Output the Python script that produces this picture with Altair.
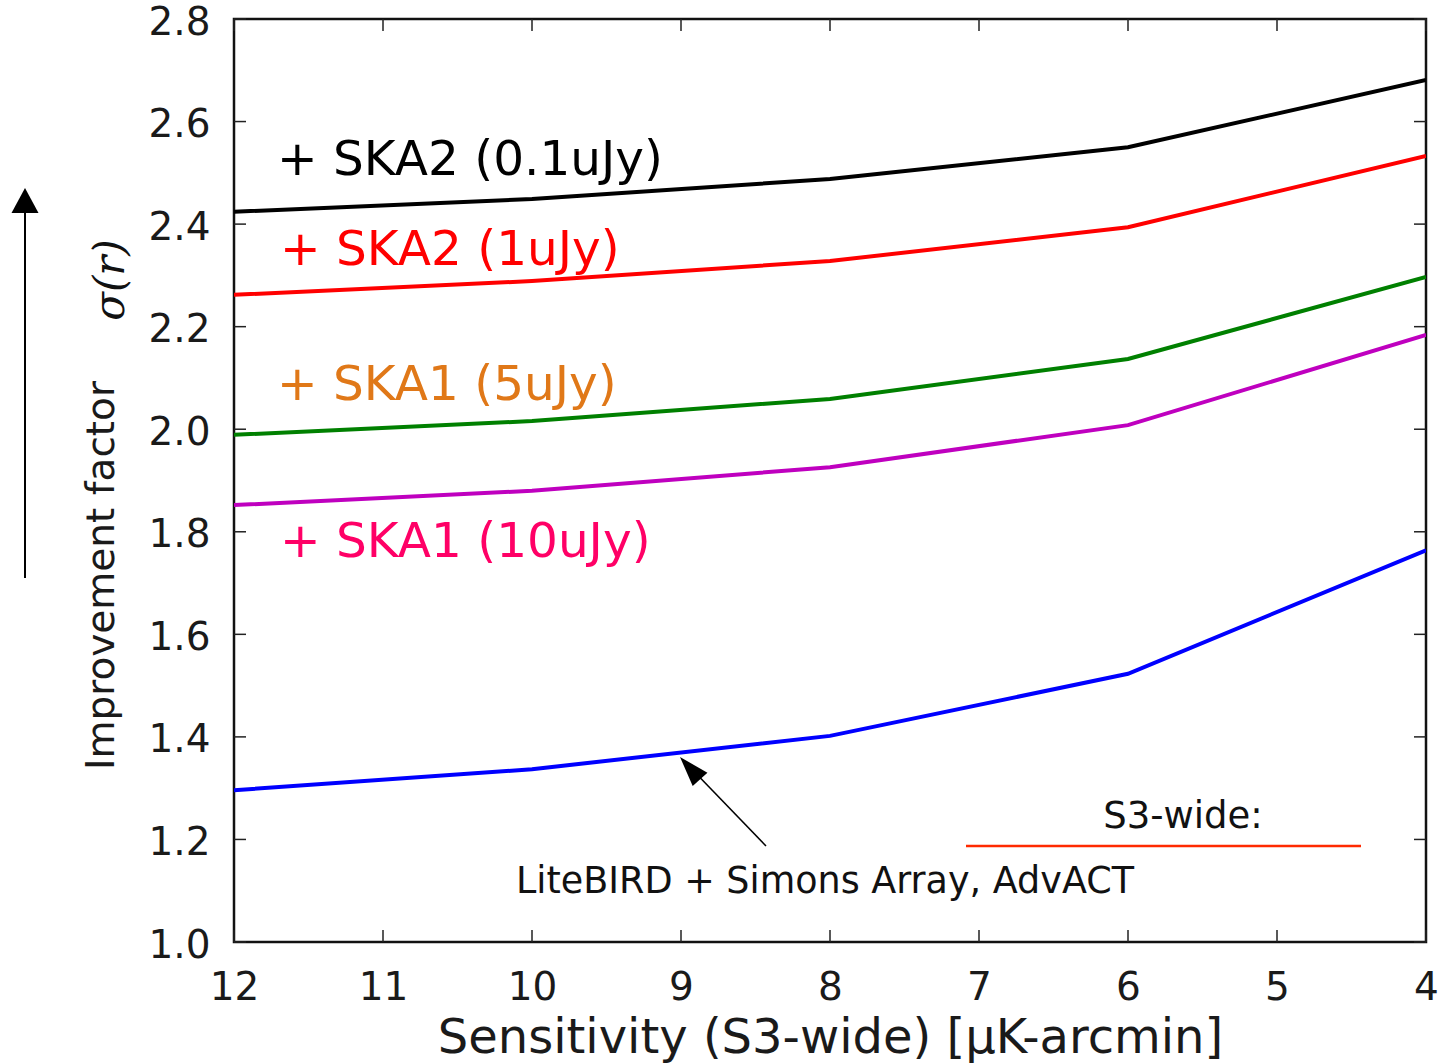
import altair as alt
import pandas as pd

# ---- data ----
sensitivity = [12, 10, 8, 6, 4]
ska2_01uJy = [2.424, 2.449, 2.488, 2.550, 2.681]
ska2_1uJy = [2.262, 2.289, 2.328, 2.394, 2.533]
ska1_5uJy = [1.989, 2.016, 2.059, 2.137, 2.297]
ska1_10uJy = [1.852, 1.880, 1.926, 2.008, 2.184]
cmb_only = [1.296, 1.337, 1.402, 1.523, 1.764]

series_names = ["+ SKA2 (0.1uJy)", "+ SKA2 (1uJy)", "+ SKA1 (5uJy)",
                "+ SKA1 (10uJy)", "LiteBIRD + Simons Array, AdvACT"]
series_values = [ska2_01uJy, ska2_1uJy, ska1_5uJy, ska1_10uJy, cmb_only]
line_colors = ["#000000", "#ff0000", "#008000", "#bf00bf", "#0000ff"]

x_ticks = [4, 5, 6, 7, 8, 9, 10, 11, 12]
y_ticks = [1.0, 1.2, 1.4, 1.6, 1.8, 2.0, 2.2, 2.4, 2.6, 2.8]

x_title = "Sensitivity (S3-wide) [\u03bcK-arcmin]"
y_title = "Improvement factor"

W, H = 1192, 923
FONT = "DejaVu Sans"
TICK = 12

rows = []
for name, vals in zip(series_names, series_values):
    for xv, yv in zip(sensitivity, vals):
        rows.append({"series": name, "x": xv, "y": yv})
df = pd.DataFrame(rows)

xscale = alt.Scale(domain=[4, 12], reverse=True, nice=False, zero=False)
yscale = alt.Scale(domain=[1.0, 2.8], nice=False, zero=False)

x_axis = alt.Axis(values=x_ticks, format="d", title=x_title, labelFontSize=39,
                  labelPadding=26, tickSize=0, labelFlush=False, titleFontSize=48,
                  titleFontWeight="normal", titleBaseline="alphabetic", titleY=110)
y_axis = alt.Axis(values=y_ticks, format=".1f", title=y_title, labelFontSize=39,
                  labelPadding=24, tickSize=0, labelOffset=3, labelFlush=False,
                  titleFontSize=39, titleFontWeight="normal", titleAngle=270,
                  titleX=-133, titleY=556, titleBaseline="middle", titleAlign="center")

lines = alt.Chart(df).mark_line(strokeWidth=4, clip=True).encode(
    x=alt.X("x:Q", scale=xscale, axis=x_axis),
    y=alt.Y("y:Q", scale=yscale, axis=y_axis),
    color=alt.Color("series:N", scale=alt.Scale(domain=series_names, range=line_colors), legend=None),
)

xt = pd.DataFrame({"x": x_ticks})
yt = pd.DataFrame({"y": y_ticks})
tick_style = dict(color="#222222", strokeWidth=1.5)
bottom_ticks = alt.Chart(xt).mark_rule(**tick_style).encode(
    x=alt.X("x:Q", scale=xscale, axis=x_axis), y=alt.value(H), y2=alt.value(H - TICK))
top_ticks = alt.Chart(xt).mark_rule(**tick_style).encode(
    x=alt.X("x:Q", scale=xscale, axis=x_axis), y=alt.value(0), y2=alt.value(TICK))
left_ticks = alt.Chart(yt).mark_rule(**tick_style).encode(
    y=alt.Y("y:Q", scale=yscale, axis=y_axis), x=alt.value(0), x2=alt.value(TICK))
right_ticks = alt.Chart(yt).mark_rule(**tick_style).encode(
    y=alt.Y("y:Q", scale=yscale, axis=y_axis), x=alt.value(W), x2=alt.value(W - TICK))

dummy = pd.DataFrame({"k": [0]})


def text(label, px, py, color, size, align="left", baseline="alphabetic", angle=0,
         font=FONT, style="normal"):
    return alt.Chart(dummy).mark_text(
        text=label, align=align, baseline=baseline, angle=angle, font=font,
        fontSize=size, color=color, fontStyle=style
    ).encode(x=alt.value(px), y=alt.value(py))


labels = [
    text("+ SKA2 (0.1uJy)", 43, 156, "#000000", 48.5),
    text("+ SKA2 (1uJy)", 46, 246, "#ff0000", 48.5),
    text("+ SKA1 (5uJy)", 43, 381, "#e07818", 48.5),
    text("+ SKA1 (10uJy)", 46, 538, "#ff0066", 48.5),
    text("S3-wide:", 949, 809, "#111111", 37, align="center"),
    text("LiteBIRD + Simons Array, AdvACT", 591, 874, "#111111", 36.5, align="center"),
    text("\u03c3(r)", -110, 261, "#111111", 42, align="center", angle=270,
         font="DejaVu Serif", style="italic"),
]

# legend-like red line under "S3-wide:"
s3_line = alt.Chart(dummy).mark_rule(color="#ff2a00", strokeWidth=2.5).encode(
    x=alt.value(732), x2=alt.value(1127), y=alt.value(827))

# arrow pointing at the blue curve
arrow_line = alt.Chart(dummy).mark_rule(color="#000000", strokeWidth=1.5).encode(
    x=alt.value(532), x2=alt.value(450), y=alt.value(827), y2=alt.value(742))
arrow_head = alt.Chart(dummy).mark_point(
    shape="M0,0L-0.33,1L0.33,1Z", filled=True, color="#000000", opacity=1,
    size=3600, angle=318, strokeWidth=0
).encode(x=alt.value(446), y=alt.value(738))

# vertical arrow on the far left
left_arrow = alt.Chart(dummy).mark_rule(color="#000000", strokeWidth=2).encode(
    x=alt.value(-209), y=alt.value(559), y2=alt.value(185))
left_head = alt.Chart(dummy).mark_point(
    shape="M0,0L-0.54,1L0.54,1Z", filled=True, color="#000000", opacity=1,
    size=2500, strokeWidth=0
).encode(x=alt.value(-209), y=alt.value(169))

chart = alt.layer(
    lines, bottom_ticks, top_ticks, left_ticks, right_ticks,
    *labels, s3_line, arrow_line, arrow_head, left_arrow, left_head
).properties(
    width=W, height=H,
    autosize=alt.AutoSizeParams(type="none"),
    padding={"left": 234, "top": 19, "right": 19, "bottom": 122},
).configure_view(
    stroke="#111111", strokeWidth=2.5
).configure_axis(
    domain=False, ticks=False, grid=False, labelFont=FONT, titleFont=FONT,
    labelColor="#1a1a1a", titleColor="#1a1a1a"
)

chart.save("out.html", embed_options={"renderer": "svg", "actions": False})
